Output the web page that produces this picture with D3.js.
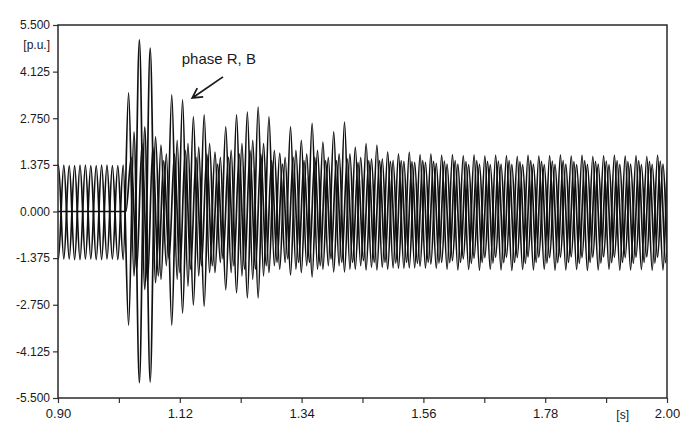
<!DOCTYPE html>
<html>
<head>
<meta charset="utf-8">
<script src="https://d3js.org/d3.v7.min.js"></script>
<style>
body { margin:0; background:#fff; }
text { font-family: "Liberation Sans", Arial, sans-serif; fill:#1a1a1a; }
.tick text { font-size:12px; }
.xaxis .tick text { font-size:13px; }
.tick line { stroke:#333; stroke-width:1.2; }
</style>
</head>
<body>
<svg id="graph1"></svg>
<script>
// cycles, one entry per cycle starting at 0.891 s
var cycleStart = 0.891
var period = 0.0195

var rPeak = [1.35,
    1.37,1.35,1.37,1.35,1.37,1.35,
    3.50,5.06,4.82,1.96,3.44,3.29,2.79,2.85,1.75,2.50,2.85,2.93,3.08,2.79,1.72,2.50,2.10,2.60,2.05,2.35,2.64,1.90,2.00,
    1.96,1.76,1.70,1.75,1.68,1.70,1.66,1.68,1.65,1.67,1.64,1.66,1.65,1.63,1.66,1.64,1.65,1.67,1.64,1.66,1.63,1.65,1.66,1.64,1.65,1.63,1.66,1.65]
var rTrough = [-1.40,
    -1.40,-1.42,-1.40,-1.42,-1.40,-1.42,
    -1.90,-2.30,-2.10,-1.60,-2.00,-2.20,-1.90,-1.80,-1.50,-1.80,-1.90,-2.00,-1.90,-1.60,-1.50,-1.70,-1.60,-1.70,-1.60,-1.60,-1.70,-1.60,-1.65,
    -1.65,-1.66,-1.68,-1.66,-1.67,-1.68,-1.70,-1.72,-1.71,-1.73,-1.70,-1.72,-1.74,-1.71,-1.72,-1.70,-1.73,-1.72,-1.71,-1.74,-1.72,-1.70,-1.73,-1.72,-1.71,-1.73,-1.72,-1.70]

var bTrough = [-1.42,
    -1.40,-1.42,-1.40,-1.42,-1.40,-1.42,
    -3.35,-5.05,-5.03,-2.00,-3.35,-3.00,-2.76,-2.80,-1.80,-2.31,-2.40,-2.55,-2.55,-1.80,-1.70,-1.87,-1.80,-1.93,-1.70,-1.78,-1.78,-1.70,-1.72,
    -1.72,-1.70,-1.68,-1.66,-1.62,-1.55,-1.50,-1.45,-1.40,-1.38,-1.36,-1.35,-1.35,-1.36,-1.34,-1.35,-1.36,-1.35,-1.34,-1.36,-1.35,-1.34,-1.35,-1.36,-1.35,-1.34,-1.35,-1.36]
var bPeak = [1.37,
    1.35,1.37,1.35,1.37,1.35,1.37,
    2.35,2.50,2.20,1.70,2.10,2.00,1.90,2.00,1.60,1.80,2.00,2.10,2.00,1.80,1.60,1.80,1.70,1.80,1.60,1.70,1.70,1.60,1.55,
    1.55,1.50,1.48,1.45,1.45,1.42,1.40,1.40,1.38,1.40,1.38,1.40,1.39,1.38,1.40,1.38,1.39,1.40,1.38,1.39,1.40,1.38,1.39,1.40,1.38,1.39,1.40,1.38]

var yPeak = [0,
    0,0,0,0,0,0,
    1.60,2.00,1.90,1.50,1.70,1.80,1.60,1.70,1.40,1.60,1.70,1.80,1.70,1.50,1.40,1.60,1.50,1.60,1.50,1.50,1.55,1.45,1.50,
    1.50,1.48,1.50,1.47,1.50,1.48,1.49,1.50,1.47,1.50,1.48,1.49,1.50,1.47,1.50,1.48,1.49,1.50,1.47,1.50,1.48,1.49,1.50,1.47,1.50,1.48,1.49,1.50]
var yTrough = [0,
    0,0,0,0,0,0,
    -1.70,-2.10,-1.90,-1.40,-1.80,-1.70,-1.60,-1.60,-1.40,-1.60,-1.70,-1.70,-1.60,-1.50,-1.40,-1.50,-1.50,-1.60,-1.40,-1.50,-1.50,-1.45,-1.50,
    -1.50,-1.52,-1.50,-1.53,-1.50,-1.52,-1.51,-1.50,-1.53,-1.50,-1.52,-1.51,-1.50,-1.53,-1.50,-1.52,-1.51,-1.50,-1.53,-1.50,-1.52,-1.51,-1.50,-1.53,-1.50,-1.52,-1.51,-1.50]

var xTicks = [0.90,1.01,1.12,1.23,1.34,1.45,1.56,1.67,1.78,1.89,2.00]
var xTickLabels = ["0.90","","1.12","","1.34","","1.56","","1.78","","2.00"]
var yTicks = [5.5,4.125,2.75,1.375,0,-1.375,-2.75,-4.125,-5.5]
var yTickLabels = ["5.500","4.125","2.750","1.375","0.000","-1.375","-2.750","-4.125","-5.500"]

var buildPhase = function(first, second, shift)
{
    var pts = []
    first.forEach(function(v, i)
    {
        var t = cycleStart + i*period + shift
        pts.push([t, v])
        pts.push([t + period/2, second[i]])
    })
    return pts
}

var initGraph = function()
{
    var screen = {width:682, height:422}
    var margins = {left:58, right:15, top:25, bottom:24}
    var graph =
        {
            width:screen.width-margins.left-margins.right,
            height:screen.height-margins.top-margins.bottom
        }

    var svg = d3.select("#graph1")
        .attr("width", screen.width)
        .attr("height", screen.height)

    var xScale = d3.scaleLinear()
        .domain([0.9, 2.0])
        .range([0, graph.width])

    var yScale = d3.scaleLinear()
        .domain([-5.5, 5.5])
        .range([graph.height, 0])

    svg.append("defs").append("clipPath")
        .attr("id", "plotClip")
        .append("rect")
        .attr("width", graph.width)
        .attr("height", graph.height)

    var target = svg.append("g")
        .attr("transform", "translate(" + margins.left + "," + margins.top + ")")

    drawLines(target, xScale, yScale)
    drawAxes(target, graph, xScale, yScale)
    drawLabels(target, graph, xScale, yScale)
}

var drawLines = function(target, xScale, yScale)
{
    var lineGenerator = d3.line()
        .x(function(d) { return xScale(d[0]) })
        .y(function(d) { return yScale(d[1]) })
        .curve(d3.curveMonotoneX)

    var phases = [
        buildPhase(yPeak, yTrough, period/4),
        buildPhase(bTrough, bPeak, 0),
        buildPhase(rPeak, rTrough, 0)
    ]

    target.append("g")
        .attr("clip-path", "url(#plotClip)")
        .selectAll("path")
        .data(phases)
        .enter()
        .append("path")
        .attr("d", lineGenerator)
        .attr("fill", "none")
        .attr("stroke", "#111")
        .attr("stroke-width", 1.7)
}

var drawAxes = function(target, graph, xScale, yScale)
{
    var xAxis = d3.axisBottom(xScale)
        .tickValues(xTicks)
        .tickFormat(function(d, i) { return xTickLabels[i] })
        .tickSize(5)
        .tickPadding(6)
    var yAxis = d3.axisLeft(yScale)
        .tickValues(yTicks)
        .tickFormat(function(d, i) { return yTickLabels[i] })
        .tickSize(5)
        .tickPadding(3)

    var gx = target.append("g")
        .classed("xaxis", true)
        .attr("transform", "translate(0," + graph.height + ")")
        .call(xAxis)
    gx.select(".domain").remove()

    var gy = target.append("g")
        .call(yAxis)
    gy.select(".domain").remove()

    target.append("rect")
        .attr("width", graph.width)
        .attr("height", graph.height)
        .attr("fill", "none")
        .attr("stroke", "#2a2a2a")
        .attr("stroke-width", 1.5)
}

var drawLabels = function(target, graph, xScale, yScale)
{
    target.append("text")
        .text("[p.u.]")
        .attr("text-anchor", "end")
        .attr("x", -8)
        .attr("y", yScale(4.8))
        .attr("font-size", "12px")

    target.append("text")
        .text("[s]")
        .attr("text-anchor", "middle")
        .attr("x", xScale(1.92))
        .attr("y", graph.height + 21)
        .attr("font-size", "12px")

    target.append("text")
        .text("phase R, B")
        .attr("x", xScale(1.1235))
        .attr("y", yScale(4.36))
        .attr("font-size", "15px")

    // arrow pointing at the R, B spikes
    var tail = [xScale(1.198), yScale(3.97)]
    var tip = [xScale(1.1425), yScale(3.35)]
    var ang = Math.atan2(tail[1]-tip[1], tail[0]-tip[0])
    var arm = 11
    var arrow = d3.path()
    arrow.moveTo(tail[0], tail[1])
    arrow.lineTo(tip[0], tip[1])
    arrow.moveTo(tip[0] + arm*Math.cos(ang-0.5), tip[1] + arm*Math.sin(ang-0.5))
    arrow.lineTo(tip[0], tip[1])
    arrow.lineTo(tip[0] + arm*Math.cos(ang+0.5), tip[1] + arm*Math.sin(ang+0.5))

    target.append("path")
        .attr("d", arrow.toString())
        .attr("fill", "none")
        .attr("stroke", "#1b1b1b")
        .attr("stroke-width", 1.8)
}

initGraph()
</script>
</body>
</html>
